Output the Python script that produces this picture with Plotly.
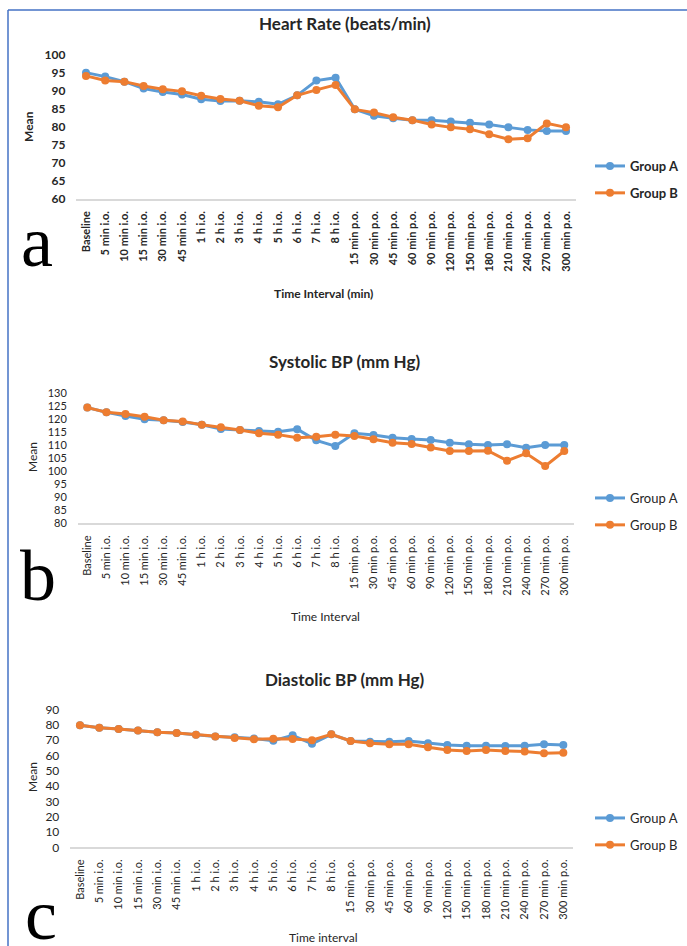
import plotly.graph_objects as go

# ---------------- data ----------------
time_labels = ["Baseline", "5 min i.o.", "10 min i.o.", "15 min i.o.", "30 min i.o.", "45 min i.o.",
               "1 h i.o.", "2 h i.o.", "3 h i.o.", "4 h i.o.", "5 h i.o.", "6 h i.o.", "7 h i.o.", "8 h i.o.",
               "15 min p.o.", "30 min p.o.", "45 min p.o.", "60 min p.o.", "90 min p.o.", "120 min p.o.",
               "150 min p.o.", "180 min p.o.", "210 min p.o.", "240 min p.o.", "270 min p.o.", "300 min p.o."]

hr_group_a = [95.1, 94.0, 92.6, 90.7, 89.7, 89.0, 87.7, 87.2, 87.3, 87.0, 86.3, 88.8, 92.9, 93.7,
              84.9, 83.1, 82.4, 81.9, 81.9, 81.5, 81.2, 80.7, 79.9, 79.2, 78.9, 78.9]
hr_group_b = [94.2, 92.9, 92.6, 91.4, 90.5, 89.9, 88.7, 87.8, 87.3, 85.9, 85.5, 88.8, 90.3, 91.7,
              84.9, 84.0, 82.7, 81.9, 80.7, 79.9, 79.4, 78.0, 76.6, 76.9, 81.0, 79.9]

sbp_group_a = [124.5, 122.7, 121.3, 120.0, 119.6, 119.0, 117.9, 116.3, 115.9, 115.5, 115.2, 116.2, 111.9, 109.7,
               114.6, 114.0, 112.9, 112.4, 112.0, 111.0, 110.4, 110.1, 110.4, 109.1, 110.1, 110.1]
sbp_group_b = [124.5, 122.7, 122.0, 121.0, 119.6, 119.2, 117.9, 116.9, 115.9, 114.6, 114.1, 112.9, 113.3, 114.1,
               113.6, 112.3, 111.0, 110.5, 109.2, 107.8, 107.8, 107.9, 104.1, 106.9, 102.0, 107.8]

dbp_group_a = [79.6, 78.0, 77.2, 76.1, 75.0, 74.5, 73.4, 72.2, 71.8, 71.0, 69.5, 73.0, 67.5, 73.7,
               69.3, 68.9, 68.9, 69.3, 67.8, 66.7, 66.3, 66.3, 66.1, 66.3, 67.2, 66.7]
dbp_group_b = [79.6, 78.0, 77.2, 76.1, 75.0, 74.5, 73.4, 72.2, 71.3, 70.5, 70.8, 70.7, 69.8, 73.7,
               69.3, 67.8, 67.2, 67.2, 65.2, 63.5, 62.8, 63.5, 62.8, 62.4, 61.3, 61.7]

group_names = ["Group A", "Group B"]
panel_titles = ["Heart Rate (beats/min)", "Systolic BP (mm Hg)", "Diastolic BP (mm Hg)"]
x_titles = ["Time Interval (min)", "Time Interval", "Time interval"]
y_title = "Mean"
panel_letters = ["a", "b", "c"]

# ---------------- layout helpers ----------------
W, H = 687, 946
def px(x):
    return x / W
def py(y):
    return 1 - y / H

BLUE = "#5B9BD5"
ORANGE = "#ED7D31"
FONT = "Lato"
TXT = "#262626"

panels = [
    dict(a=hr_group_a, b=hr_group_b, yr=[60, 100], dt=5, xd=[76.4, 575.6], yd=[55, 199], bold=True, ytf=12,
         title_y=24, ytitle=(29, 127), xtitle=(323, 294), letter=(37, 242), leg=(590, 151)),
    dict(a=sbp_group_a, b=sbp_group_b, yr=[80, 130], dt=5, xd=[77.8, 573.8], yd=[393.3, 523.3], bold=False, ytf=11,
         title_y=361, ytitle=(32, 457), xtitle=(325, 616), letter=(38, 576), leg=(590, 483)),
    dict(a=dbp_group_a, b=dbp_group_b, yr=[0, 90], dt=10, xd=[70.3, 573.0], yd=[709.3, 847.3], bold=False, ytf=12,
         title_y=679, ytitle=(32, 777), xtitle=(323, 937), letter=(41, 915), leg=(590, 803)),
]

fig = go.Figure()
annotations = []
layout = {}

for i, p in enumerate(panels):
    n = "" if i == 0 else str(i + 1)
    xa, ya = "x" + n, "y" + n
    leg = "legend" + n
    wt = "bold" if p["bold"] else "normal"
    for vals, name, col in ((p["a"], group_names[0], BLUE), (p["b"], group_names[1], ORANGE)):
        fig.add_trace(go.Scatter(
            x=time_labels, y=vals, name=name, mode="lines+markers",
            line=dict(color=col, width=3), marker=dict(color=col, size=8),
            xaxis=xa, yaxis=ya, legend=leg, legendgroup=name + n, showlegend=True,
        ))
    layout["xaxis" + n] = dict(
        domain=[px(p["xd"][0]), px(p["xd"][1])], anchor=ya, type="category",
        range=[-0.5, len(time_labels) - 0.5], showgrid=False, zeroline=False,
        showline=True, linecolor="#d9d9d9", linewidth=1.5, ticks="",
        tickangle=-90, ticklabelstandoff=6, automargin=False,
        tickfont=dict(family=FONT, size=11, color=TXT, weight=wt),
    )
    layout["yaxis" + n] = dict(
        domain=[py(p["yd"][1]), py(p["yd"][0])], anchor=xa, range=p["yr"], dtick=p["dt"],
        tick0=p["yr"][0], showgrid=False, zeroline=False, showline=False, ticks="",
        ticklabelstandoff=10, automargin=False,
        tickfont=dict(family=FONT, size=p["ytf"], color=TXT, weight=wt),
    )
    layout[leg] = dict(
        x=px(p["leg"][0]), y=py(p["leg"][1]), xanchor="left", yanchor="top",
        bgcolor="rgba(0,0,0,0)", tracegroupgap=7,
        font=dict(family=FONT, size=13, color=TXT, weight=wt),
    )
    annotations.append(dict(text=panel_titles[i], x=px(345), y=py(p["title_y"]), xref="paper", yref="paper",
                            showarrow=False, xanchor="center", yanchor="middle",
                            font=dict(family=FONT, size=17, color=TXT, weight="bold")))
    annotations.append(dict(text=y_title, x=px(p["ytitle"][0]), y=py(p["ytitle"][1]), xref="paper", yref="paper",
                            showarrow=False, textangle=-90, xanchor="center", yanchor="middle",
                            font=dict(family=FONT, size=12, color=TXT, weight=wt)))
    annotations.append(dict(text=x_titles[i], x=px(p["xtitle"][0]), y=py(p["xtitle"][1]), xref="paper", yref="paper",
                            showarrow=False, xanchor="center", yanchor="middle",
                            font=dict(family=FONT, size=12, color=TXT, weight=wt)))
    annotations.append(dict(text=panel_letters[i], x=px(p["letter"][0]), y=py(p["letter"][1]), xref="paper", yref="paper",
                            showarrow=False, xanchor="center", yanchor="middle",
                            font=dict(family="Liberation Serif", size=72, color="#000000")))

shapes = [
    dict(type="line", xref="paper", yref="paper", x0=px(8), x1=px(8), y0=0, y1=py(10),
         line=dict(color="#4472C4", width=1.5)),
    dict(type="line", xref="paper", yref="paper", x0=px(8), x1=1, y0=py(10), y1=py(10),
         line=dict(color="#4472C4", width=1.5)),
]

fig.update_layout(
    width=W, height=H, autosize=False,
    margin=dict(l=0, r=0, t=0, b=0, pad=0, autoexpand=False),
    paper_bgcolor="white", plot_bgcolor="white",
    annotations=annotations, shapes=shapes,
    **layout,
)

fig.write_html("out.html", config={"displayModeBar": False},
               post_script="document.body.style.margin='0px';document.body.style.overflow='hidden';")
